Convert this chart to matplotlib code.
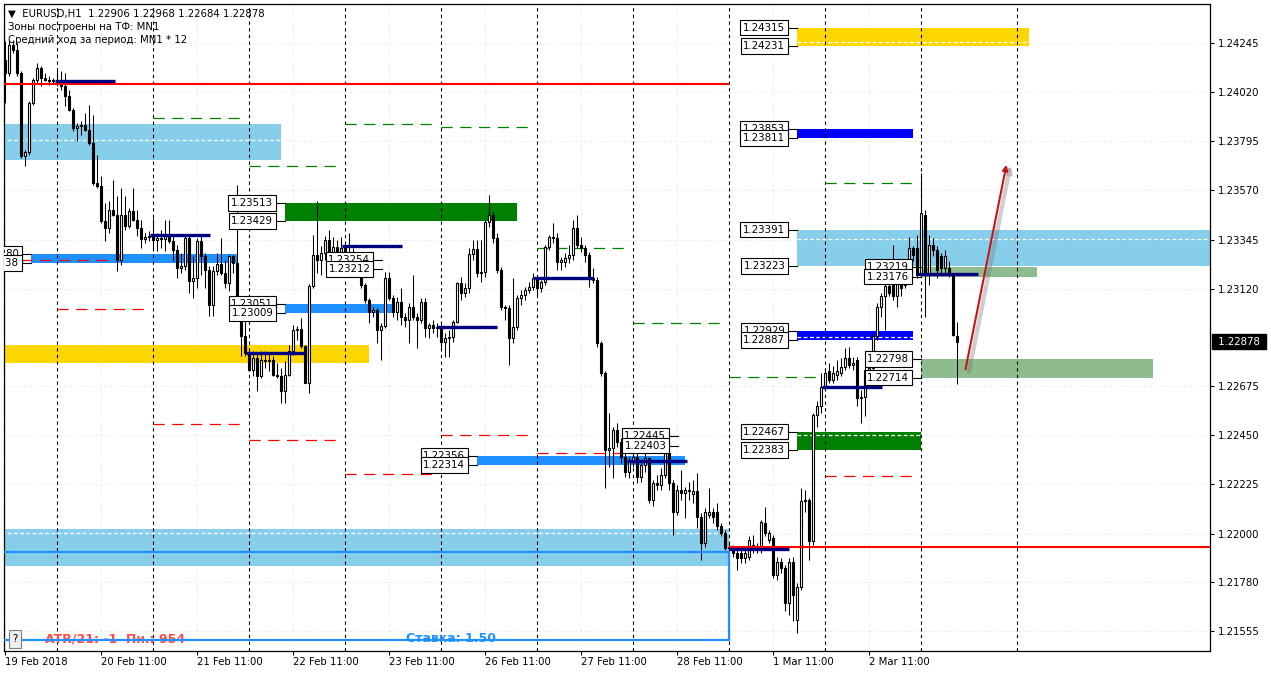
import numpy as np
import matplotlib.pyplot as plt
import matplotlib.patheffects as pe
from matplotlib.patches import FancyArrowPatch
from matplotlib.transforms import blended_transform_factory

plt.rcParams["font.family"] = ["DejaVu Sans"]

W, H = 1271, 676

# EURUSD H1 bars, bar 0 = 19 Feb 2018 11:00
opens = [
    1.24169, 1.24108, 1.24237, 1.24214, 1.24108, 1.23726, 1.23745, 1.23970, 1.24077, 1.24130,
    1.24085, 1.24077, 1.24069, 1.24074, 1.24062, 1.24047, 1.24001, 1.23940, 1.23856, 1.23864,
    1.23871, 1.23848, 1.23787, 1.23604, 1.23592, 1.23429, 1.23398, 1.23482, 1.23459, 1.23254,
    1.23459, 1.23406, 1.23475, 1.23437, 1.23398, 1.23348, 1.23357, 1.23363, 1.23345, 1.23353,
    1.23348, 1.23368, 1.23337, 1.23299, 1.23215, 1.23223, 1.23353, 1.23154, 1.23170, 1.23337,
    1.23269, 1.23208, 1.23048, 1.23200, 1.23235, 1.23193, 1.23147, 1.23269, 1.23238, 1.23025,
    1.22903, 1.22827, 1.22750, 1.22804, 1.22720, 1.22796, 1.22788, 1.22796, 1.22727, 1.22720,
    1.22651, 1.22727, 1.22834, 1.22933, 1.22936, 1.22857, 1.22689, 1.23132, 1.23276, 1.23254,
    1.23284, 1.23345, 1.23252, 1.23313, 1.23244, 1.23305, 1.23237, 1.23290, 1.23229, 1.23244,
    1.23138, 1.23069, 1.23016, 1.23023, 1.22932, 1.22950, 1.23168, 1.23077, 1.23016, 1.23061,
    1.22993, 1.22978, 1.23039, 1.22990, 1.22978, 1.23061, 1.22939, 1.22955, 1.22939, 1.22947,
    1.22878, 1.22894, 1.22901, 1.22970, 1.23145, 1.23099, 1.23122, 1.23279, 1.23301, 1.23194,
    1.23199, 1.23427, 1.23458, 1.23351, 1.23206, 1.23039, 1.23031, 1.22894, 1.22947, 1.23077,
    1.23092, 1.23115, 1.23130, 1.23168, 1.23122, 1.23153, 1.23313, 1.23356, 1.23351, 1.23244,
    1.23244, 1.23262, 1.23275, 1.23397, 1.23321, 1.23305, 1.23275, 1.23168, 1.23161, 1.22871,
    1.22734, 1.22383, 1.22390, 1.22474, 1.22421, 1.22352, 1.22284, 1.22329, 1.22352, 1.22261,
    1.22315, 1.22346, 1.22155, 1.22231, 1.22223, 1.22269, 1.22368, 1.22231, 1.22101, 1.22200,
    1.22185, 1.22200, 1.22180, 1.22193, 1.22078, 1.21956, 1.22086, 1.22101, 1.22101, 1.22033,
    1.22002, 1.21933, 1.21933, 1.21911, 1.21911, 1.21888, 1.21895, 1.21949, 1.21941, 1.21926,
    1.22048, 1.21972, 1.21980, 1.21811, 1.21872, 1.21842, 1.21682, 1.21872, 1.21605, 1.21758,
    1.22147, 1.22155, 1.21964, 1.22543, 1.22582, 1.22673, 1.22742, 1.22704, 1.22726, 1.22734,
    1.22764, 1.22803, 1.22772, 1.22795, 1.22620, 1.22627, 1.22742, 1.22757, 1.22902, 1.23039,
    1.23085, 1.23131, 1.23138, 1.23085, 1.23192, 1.23138, 1.23184, 1.23306, 1.23306, 1.23184,
    1.23458, 1.23184, 1.23321, 1.23298, 1.23268, 1.23214, 1.23214, 1.23184, 1.22906]
highs = [
    1.24252, 1.24260, 1.24260, 1.24245, 1.24115, 1.23757, 1.23978, 1.24085, 1.24153, 1.24138,
    1.24108, 1.24092, 1.24085, 1.24123, 1.24115, 1.24108, 1.24031, 1.23947, 1.23879, 1.23886,
    1.23925, 1.23963, 1.23917, 1.23734, 1.23635, 1.23513, 1.23520, 1.23620, 1.23543, 1.23581,
    1.23543, 1.23490, 1.23581, 1.23482, 1.23437, 1.23376, 1.23383, 1.23444, 1.23376, 1.23391,
    1.23437, 1.23437, 1.23360, 1.23322, 1.23284, 1.23360, 1.23360, 1.23269, 1.23353, 1.23360,
    1.23284, 1.23223, 1.23223, 1.23284, 1.23353, 1.23254, 1.23276, 1.23276, 1.23597, 1.23055,
    1.22979, 1.22850, 1.22834, 1.22827, 1.22834, 1.22834, 1.22827, 1.22811, 1.22781, 1.22758,
    1.22788, 1.22865, 1.22956, 1.22949, 1.22987, 1.22865, 1.23140, 1.23368, 1.23520, 1.23315,
    1.23360, 1.23389, 1.23359, 1.23343, 1.23359, 1.23313, 1.23374, 1.23305, 1.23267, 1.23267,
    1.23145, 1.23077, 1.23039, 1.23031, 1.22962, 1.23199, 1.23199, 1.23092, 1.23084, 1.23122,
    1.23008, 1.23054, 1.23183, 1.23008, 1.23077, 1.23077, 1.22962, 1.22978, 1.22962, 1.22962,
    1.22916, 1.22932, 1.22978, 1.23153, 1.23176, 1.23145, 1.23305, 1.23343, 1.23343, 1.23343,
    1.23435, 1.23549, 1.23473, 1.23374, 1.23221, 1.23046, 1.23046, 1.23168, 1.23092, 1.23115,
    1.23130, 1.23153, 1.23191, 1.23183, 1.23161, 1.23321, 1.23366, 1.23423, 1.23374, 1.23267,
    1.23282, 1.23321, 1.23435, 1.23458, 1.23359, 1.23321, 1.23290, 1.23214, 1.23176, 1.22879,
    1.22742, 1.22551, 1.22490, 1.22505, 1.22436, 1.22367, 1.22352, 1.22382, 1.22398, 1.22322,
    1.22368, 1.22352, 1.22246, 1.22269, 1.22300, 1.22384, 1.22384, 1.22246, 1.22223, 1.22292,
    1.22215, 1.22238, 1.22246, 1.22276, 1.22094, 1.22117, 1.22208, 1.22117, 1.22139, 1.22048,
    1.22017, 1.21956, 1.21949, 1.21926, 1.21926, 1.21941, 1.21987, 1.21994, 1.21956, 1.22063,
    1.22124, 1.22017, 1.21994, 1.21895, 1.21887, 1.21857, 1.21887, 1.21895, 1.21773, 1.22208,
    1.22200, 1.22163, 1.22551, 1.22605, 1.22734, 1.22742, 1.22780, 1.22765, 1.22795, 1.22803,
    1.22848, 1.22856, 1.22810, 1.22810, 1.22658, 1.22765, 1.22780, 1.22917, 1.23054, 1.23100,
    1.23146, 1.23176, 1.23321, 1.23184, 1.23214, 1.23222, 1.23359, 1.23314, 1.23367, 1.23649,
    1.23481, 1.23367, 1.23352, 1.23314, 1.23283, 1.23298, 1.23245, 1.23192, 1.22968]
lows = [
    1.23970, 1.24092, 1.24199, 1.24092, 1.23719, 1.23684, 1.23734, 1.23963, 1.24062, 1.24047,
    1.24069, 1.24054, 1.24059, 1.24047, 1.24031, 1.23955, 1.23932, 1.23841, 1.23795, 1.23825,
    1.23841, 1.23780, 1.23597, 1.23581, 1.23421, 1.23337, 1.23376, 1.23452, 1.23200, 1.23231,
    1.23391, 1.23398, 1.23429, 1.23360, 1.23307, 1.23330, 1.23337, 1.23299, 1.23292, 1.23307,
    1.23292, 1.23330, 1.23246, 1.23170, 1.23193, 1.23208, 1.23101, 1.23078, 1.23124, 1.23185,
    1.23124, 1.22994, 1.22994, 1.23185, 1.23185, 1.23124, 1.23109, 1.23193, 1.23017, 1.22811,
    1.22811, 1.22743, 1.22720, 1.22651, 1.22712, 1.22758, 1.22743, 1.22720, 1.22712, 1.22598,
    1.22598, 1.22720, 1.22819, 1.22888, 1.22849, 1.22689, 1.22644, 1.23124, 1.23193, 1.23185,
    1.23254, 1.23206, 1.23236, 1.23206, 1.23236, 1.23221, 1.23229, 1.23206, 1.23206, 1.23122,
    1.23054, 1.22962, 1.22993, 1.22871, 1.22794, 1.22939, 1.23069, 1.22993, 1.22977, 1.22955,
    1.22947, 1.22871, 1.22978, 1.22848, 1.22962, 1.22901, 1.22894, 1.22917, 1.22901, 1.22848,
    1.22810, 1.22810, 1.22878, 1.22962, 1.23069, 1.23084, 1.23100, 1.23252, 1.23176, 1.23153,
    1.23176, 1.23404, 1.23328, 1.23191, 1.23023, 1.22978, 1.22772, 1.22871, 1.22932, 1.23046,
    1.23069, 1.23099, 1.23115, 1.23092, 1.23107, 1.23138, 1.23298, 1.23328, 1.23206, 1.23206,
    1.23221, 1.23237, 1.23252, 1.23305, 1.23290, 1.23244, 1.23130, 1.23145, 1.22856, 1.22719,
    1.22207, 1.22307, 1.22253, 1.22398, 1.22322, 1.22261, 1.22253, 1.22307, 1.22230, 1.22238,
    1.22284, 1.22140, 1.22125, 1.22200, 1.22200, 1.22254, 1.22200, 1.21994, 1.22086, 1.22155,
    1.22071, 1.22155, 1.22140, 1.22025, 1.21880, 1.21941, 1.22071, 1.22048, 1.22017, 1.21987,
    1.21926, 1.21910, 1.21895, 1.21834, 1.21865, 1.21865, 1.21880, 1.21910, 1.21910, 1.21910,
    1.21987, 1.21956, 1.21796, 1.21788, 1.21819, 1.21644, 1.21628, 1.21598, 1.21545, 1.21742,
    1.22100, 1.21880, 1.21949, 1.22490, 1.22551, 1.22658, 1.22688, 1.22688, 1.22704, 1.22719,
    1.22749, 1.22757, 1.22749, 1.22582, 1.22505, 1.22536, 1.22719, 1.22742, 1.22886, 1.22993,
    1.22932, 1.23085, 1.23070, 1.23039, 1.23085, 1.23123, 1.23169, 1.23245, 1.23169, 1.23176,
    1.22993, 1.23138, 1.23268, 1.23169, 1.23177, 1.23192, 1.23176, 1.22902, 1.22684]
closes = [
    1.24108, 1.24237, 1.24214, 1.24108, 1.23726, 1.23745, 1.23970, 1.24077, 1.24130, 1.24085,
    1.24077, 1.24069, 1.24074, 1.24062, 1.24047, 1.24001, 1.23940, 1.23856, 1.23864, 1.23871,
    1.23848, 1.23787, 1.23604, 1.23592, 1.23429, 1.23398, 1.23482, 1.23459, 1.23254, 1.23459,
    1.23406, 1.23475, 1.23437, 1.23398, 1.23348, 1.23357, 1.23363, 1.23345, 1.23353, 1.23348,
    1.23368, 1.23337, 1.23299, 1.23215, 1.23223, 1.23353, 1.23154, 1.23170, 1.23337, 1.23269,
    1.23208, 1.23048, 1.23200, 1.23235, 1.23193, 1.23147, 1.23269, 1.23238, 1.23025, 1.22903,
    1.22827, 1.22750, 1.22804, 1.22720, 1.22796, 1.22788, 1.22796, 1.22727, 1.22720, 1.22651,
    1.22727, 1.22834, 1.22933, 1.22936, 1.22857, 1.22689, 1.23132, 1.23276, 1.23254, 1.23284,
    1.23345, 1.23252, 1.23313, 1.23244, 1.23305, 1.23237, 1.23290, 1.23229, 1.23244, 1.23138,
    1.23069, 1.23016, 1.23023, 1.22932, 1.22950, 1.23168, 1.23077, 1.23016, 1.23061, 1.22993,
    1.22978, 1.23039, 1.22990, 1.22978, 1.23061, 1.22939, 1.22955, 1.22939, 1.22947, 1.22878,
    1.22894, 1.22901, 1.22970, 1.23145, 1.23099, 1.23122, 1.23279, 1.23301, 1.23194, 1.23199,
    1.23427, 1.23458, 1.23351, 1.23206, 1.23039, 1.23031, 1.22894, 1.22947, 1.23077, 1.23092,
    1.23115, 1.23130, 1.23168, 1.23122, 1.23153, 1.23313, 1.23356, 1.23351, 1.23244, 1.23252,
    1.23262, 1.23275, 1.23397, 1.23321, 1.23305, 1.23275, 1.23168, 1.23161, 1.22871, 1.22734,
    1.22383, 1.22390, 1.22474, 1.22421, 1.22352, 1.22284, 1.22329, 1.22352, 1.22261, 1.22315,
    1.22346, 1.22155, 1.22231, 1.22223, 1.22269, 1.22368, 1.22231, 1.22101, 1.22200, 1.22185,
    1.22200, 1.22193, 1.22193, 1.22078, 1.21956, 1.22101, 1.22101, 1.22078, 1.22033, 1.22002,
    1.21933, 1.21941, 1.21911, 1.21888, 1.21888, 1.21911, 1.21972, 1.21933, 1.21926, 1.22055,
    1.22002, 1.22002, 1.21811, 1.21872, 1.21842, 1.21682, 1.21872, 1.21720, 1.21758, 1.22147,
    1.22155, 1.21964, 1.22543, 1.22582, 1.22673, 1.22734, 1.22704, 1.22734, 1.22742, 1.22764,
    1.22803, 1.22772, 1.22780, 1.22620, 1.22627, 1.22749, 1.22757, 1.22902, 1.23039, 1.23085,
    1.23131, 1.23100, 1.23085, 1.23146, 1.23123, 1.23207, 1.23306, 1.23275, 1.23184, 1.23466,
    1.23184, 1.23321, 1.23298, 1.23207, 1.23214, 1.23268, 1.23184, 1.22910, 1.22878]

tick_bars = [0, 24, 48, 72, 96, 120, 144, 168, 192, 216]
tick_text = ["19 Feb 2018", "20 Feb 11:00", "21 Feb 11:00", "22 Feb 11:00", "23 Feb 11:00",
             "26 Feb 11:00", "27 Feb 11:00", "28 Feb 11:00", "1 Mar 11:00", "2 Mar 11:00"]
price_ticks = [1.24245, 1.24020, 1.23795, 1.23570, 1.23345, 1.23120,
               1.22675, 1.22450, 1.22225, 1.22000, 1.21780, 1.21555]
day_breaks = [13, 37, 61, 85, 109, 133, 157, 181, 205, 229, 253]

# MN1 zones: kind, first bar, last bar, low, high
zone_kind = ["sky", "sky", "sky", "gold", "gold", "green", "green", "sage", "sage",
             "blue", "blue", "dodger", "dodger", "dodger"]
zone_from = [-1, 198, -1, -1, 198, 70, 198, 229, 229, 198, 198, 6.5, 70, 118]
zone_to = [69, 310, 181, 91, 256, 128, 229, 287, 258, 227, 227, 58, 97, 170]
zone_low = [1.23708, 1.23223, 1.21854, 1.22782, 1.24231, 1.23429, 1.22383, 1.22714,
            1.23176, 1.23811, 1.22887, 1.23238, 1.23009, 1.22314]
zone_high = [1.23876, 1.23391, 1.22022, 1.22863, 1.24315, 1.23513, 1.22467, 1.22798,
             1.23219, 1.23853, 1.22929, 1.23280, 1.23051, 1.22356]

# white dashed mid levels inside zones
mid_from = [-1, 198, -1, 198, 198, 198]
mid_to = [69, 310, 181, 256, 227, 229]
mid_price = [1.23801, 1.23348, 1.22003, 1.24248, 1.22901, 1.22452]

# price tags: value, bar where the connector ends
tag_price = [1.24315, 1.24231, 1.23853, 1.23811, 1.23391, 1.23223, 1.22929, 1.22887,
             1.22467, 1.22383, 1.23513, 1.23429, 1.23051, 1.23009, 1.22356, 1.22314,
             1.23219, 1.23176, 1.22798, 1.22714, 1.23254, 1.23212, 1.22445, 1.22403,
             1.23280, 1.23238]
tag_bar = [198] * 10 + [70] * 4 + [118] * 2 + [229] * 4 + [94.25] * 2 + [168.25] * 2 + [6.5] * 2

# daily projections (green up / red down) and day-open levels
up_from = [37, 61, 85, 109, 133, 157, 181, 205]
up_price = [1.23901, 1.23684, 1.23875, 1.23862, 1.23306, 1.22965, 1.22716, 1.23603]
dn_from = [4, 13, 37, 61, 85, 109, 133, 205]
dn_price = [1.23252, 1.23028, 1.22502, 1.22429, 1.22272, 1.22452, 1.22368, 1.22264]
open_from = [12.5, 36.25, 60.25, 84.25, 108, 132, 155.5, 181, 204.25, 228.25]
open_price = [1.24070, 1.23367, 1.22826, 1.23316, 1.22946, 1.23169, 1.22330, 1.21930,
              1.22673, 1.23188]

red_from = [-1, 181]
red_to = [181, 310]
red_price = [1.24059, 1.21941]
stake_top, stake_bottom, stake_end = 1.21918, 1.21514, 181
arrow_bars = (240, 250.5)
arrow_prices = (1.22740, 1.23700)

zone_colors = {"sky": "#87CEEB", "gold": "#FFD700", "green": "#008000", "sage": "#8FBC8F",
               "blue": "#0000FF", "dodger": "#1E90FF"}

fig = plt.figure(figsize=(W / 100, H / 100), dpi=100)
ax = fig.add_axes([4 / W, 1 - 651 / H, 1206 / W, 647 / H])
ax.set_xlim(-0.25, 301.25)
ax.set_ylim(1.21463, 1.24423)

for k, a, b, lo, hi in zip(zone_kind, zone_from, zone_to, zone_low, zone_high):
    ax.fill_between([a, b], lo, hi, color=zone_colors[k], lw=0, zorder=1)
ax.hlines(mid_price, mid_from, mid_to, color="white", lw=0.9, ls=(0, (3, 2)), zorder=1.5)

for d in day_breaks:
    ax.axvline(d, color="black", lw=0.8, ls=(0, (3, 3)), zorder=2)

ax.hlines(up_price, up_from, np.array(up_from) + 22.5, color="#008000", lw=0.9,
          ls=(0, (9, 6)), zorder=2)
ax.hlines(dn_price, dn_from, np.array(dn_from) + 22.5, color="#FF0000", lw=0.9,
          ls=(0, (9, 6)), zorder=2)

# candles
x = np.arange(len(closes))
o, c = np.array(opens), np.array(closes)
ax.vlines(x, lows, highs, color="black", lw=0.75, zorder=3)
body_lo = np.minimum(o, c)
body_h = np.maximum(np.abs(c - o), 0.00001)
ax.bar(x, body_h, bottom=body_lo, width=0.6, color=np.where(c >= o, "white", "black"),
       edgecolor="black", lw=0.8, zorder=3.1)

ax.hlines(red_price, red_from, red_to, color="#FF0000", lw=1.5, zorder=3.5)
ax.hlines(open_price, open_from, np.array(open_from) + 15, color="#000080", lw=2.4, zorder=4)
ax.plot([-1, stake_end, stake_end, -1], [stake_top, stake_top, stake_bottom, stake_bottom],
        color="#1E90FF", lw=1.6, zorder=4)

for p, b in zip(tag_price, tag_bar):
    ax.plot([b - 2.2, b], [p, p], color="black", lw=0.8, zorder=5)
    ax.text(b - 2.9, p, f"{p:.5f}", ha="right", va="center", fontsize=7.4, zorder=5,
            clip_on=True,
            bbox=dict(boxstyle="square,pad=0.28", fc="white", ec="black", lw=0.8))

arrow = FancyArrowPatch((arrow_bars[0], arrow_prices[0]), (arrow_bars[1], arrow_prices[1]),
                        arrowstyle="-|>", mutation_scale=8, color="#C81414", lw=1.5, zorder=6,
                        path_effects=[pe.SimpleLineShadow(offset=(2.5, -2), shadow_color="0.45",
                                                          alpha=0.35, linewidth=3),
                                      pe.Normal()])
ax.add_patch(arrow)

# axes styling
ax.set_xticks(tick_bars)
ax.set_xticklabels(tick_text, ha="left")
ax.set_yticks(price_ticks)
ax.set_yticklabels([f"{p:.5f}" for p in price_ticks])
ax.yaxis.tick_right()
ax.tick_params(axis="both", direction="out", length=3, width=0.8, labelsize=7.3, colors="black")
ax.tick_params(axis="x", pad=1.5)
ax.tick_params(axis="y", pad=2.5)
ax.grid(True, color="#e8e8e8", lw=0.6, ls=(0, (3, 3)), zorder=0)
ax.set_axisbelow(True)
for s in ax.spines.values():
    s.set_linewidth(0.9)

ax.text(1 + 5 / 1206, closes[-1], f" {closes[-1]:.5f} ",
        transform=blended_transform_factory(ax.transAxes, ax.transData),
        ha="left", va="center", color="white", fontsize=7.3, clip_on=False,
        bbox=dict(boxstyle="square,pad=0.25", fc="black", ec="black"))

# header and info texts
fig.text(8 / W, 1 - 14 / H,
         f"\u25bc  EURUSD,H1  {opens[-1]:.5f} {highs[-1]:.5f} {lows[-1]:.5f} {closes[-1]:.5f}",
         fontsize=7.3, va="center")
fig.text(8 / W, 1 - 27 / H, "Зоны построены на ТФ: MN1", fontsize=7.3, va="center")
fig.text(8 / W, 1 - 40 / H, "Средний ход за период: MN1 * 12", fontsize=7.3, va="center")
ax.text(45 / W, 1 - 639 / H, "ATR/21: -1  Пн.: 954", transform=fig.transFigure,
        color="#FF4A4A", fontsize=9, fontweight="bold", va="center", zorder=3.9)
ax.text(406 / W, 1 - 639 / H, "Ставка: 1.50", transform=fig.transFigure,
        color="#1E90FF", fontsize=9, fontweight="bold", va="center", zorder=3.9)
fig.text(15 / W, 1 - 639 / H, "?", fontsize=7.3, ha="center", va="center",
         bbox=dict(boxstyle="square,pad=0.35", fc="#eeeeee", ec="#808080", lw=0.8))

fig.savefig("out.png", dpi=100)
